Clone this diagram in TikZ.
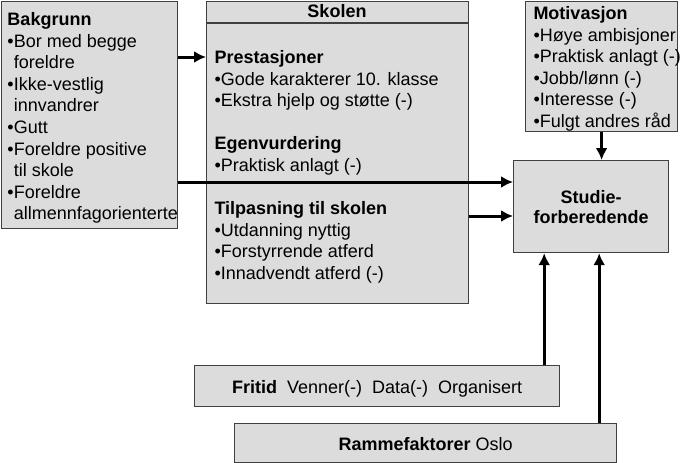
\documentclass[tikz,border=0pt]{standalone}
\usepackage[svgnames]{xcolor}
\usepackage{fontspec}
\setmainfont{Liberation Sans}
\usepackage{tikz}
\usetikzlibrary{arrows.meta}

\begin{document}
\begin{tikzpicture}[x=1pt, y=-1pt, -{Latex[length=12pt,width=12pt]}, color=black, line width=3pt,
      every node/.append style={font=\fontsize{18}{21.6}\selectfont, inner sep=0pt}]
	  \tikzstyle{box} = [draw=black!75, fill=Gainsboro, line width=1.2pt, anchor=north west]
	  \tikzstyle{word} = [align=left, anchor=north west]
	  \useasboundingbox (0,0) rectangle (697,463);
	  % boxes
	  \node (1_1) [box, minimum width=176, minimum height=227] at (1,1) {};
	  \node (1_2) [box, minimum width=262, minimum height=302] at (206,1) {};
	  \node (1_3) [box, minimum width=152, minimum height=130] at (525,1) {};
	  \node (1_4) [box, minimum width=155, minimum height=92, align=center,
	    font=\fontsize{18}{20}\selectfont\bfseries] at (513,160) {Studie-\\forberedende};
	  \node (1_9) [box, minimum width=365, minimum height=41, text height=15pt, text depth=0pt]
	    at (194,365) {\textbf{Fritid}\ \ Venner(-)\ \ Data(-)\ \ Organisert};
	  \node (1_10) [box, minimum width=382, minimum height=39, text height=14pt, text depth=0pt]
	    at (234,423) {\textbf{Rammefaktorer} Oslo};
	  \draw[-, line width=1.2pt, draw=black!75] ([yshift=-22pt]1_2.north west) -- ([yshift=-22pt]1_2.north east);
	  % texts
	  \node (1_5) [font=\fontsize{18}{21.6}\selectfont\bfseries] at (337,11.5) {Skolen};
	  \node (1_6) [word] at (6,11) {\textbf{Bakgrunn}\\
	    •Bor med begge\\\hphantom{•}foreldre\\
	    •Ikke-vestlig\\\hphantom{•}innvandrer\\
	    •Gutt\\
	    •Foreldre positive\\\hphantom{•}til skole\\
	    •Foreldre\\\hphantom{•}allmennfagorienterte};
	  \node (1_7) [word] at (213,49) {\textbf{Prestasjoner}\\
	    •Gode karakterer 10. klasse\\
	    •Ekstra hjelp og støtte (-)\\[21.6pt]
	    \textbf{Egenvurdering}\\
	    •Praktisk anlagt (-)\\[21.6pt]
	    \textbf{Tilpasning til skolen}\\
	    •Utdanning nyttig\\
	    •Forstyrrende atferd\\
	    •Innadvendt atferd (-)};
	  \node (1_8) [word] at (532,5) {\textbf{Motivasjon}\\
	    •Høye ambisjoner\\
	    •Praktisk anlagt (-)\\
	    •Jobb/lønn (-)\\
	    •Interesse (-)\\
	    •Fulgt andres råd};
	  % arrows
	  \draw ([yshift=-56pt]1_1.north east) coordinate (2_1) -- (2_1 -| 1_2.west);
	  \draw ([yshift=-181pt]1_1.north east) coordinate (2_2) -- (2_2 -| 1_4.west);
	  \draw ([yshift=-215pt]1_2.north east) coordinate (2_3) -- (2_3 -| 1_4.west);
	  \draw (1_3.south) -- (1_3.south |- 1_4.north);
	  \draw ([xshift=-16pt]1_9.north east) coordinate (2_5) -- (2_5 |- 1_4.south);
	  \draw ([xshift=-18pt]1_10.north east) coordinate (2_6) -- (2_6 |- 1_4.south);
	\end{tikzpicture}
\end{document}
